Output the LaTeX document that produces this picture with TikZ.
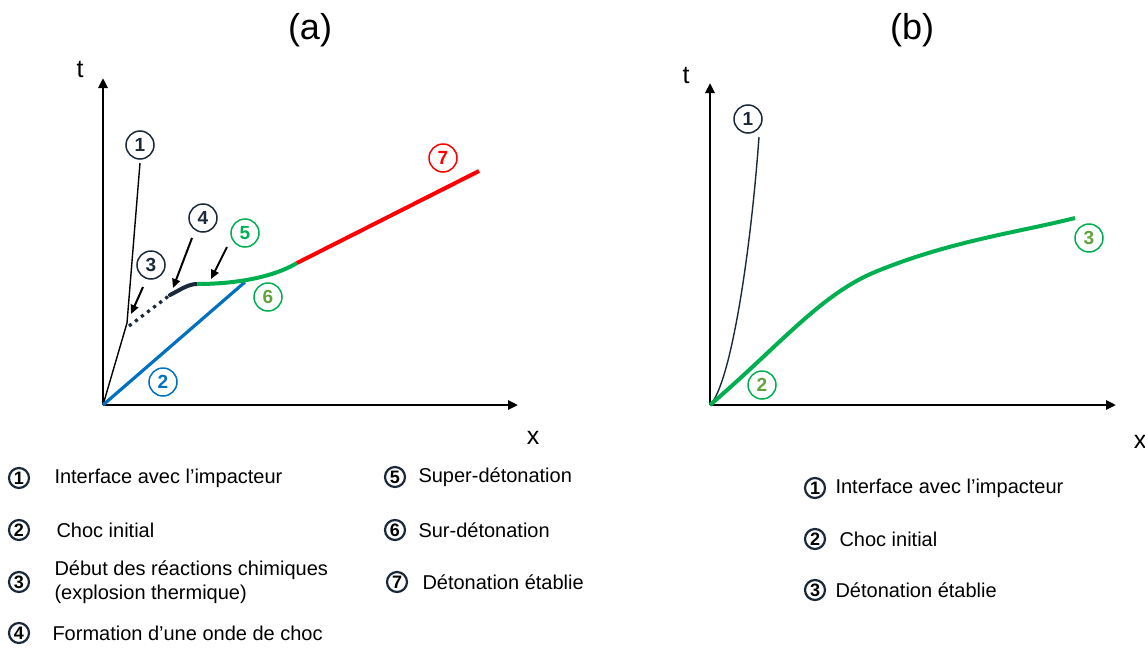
\documentclass[tikz,border=0pt]{standalone}
\usepackage{fontspec}
\setmainfont{Liberation Sans}
\usetikzlibrary{positioning, arrows.meta, calc}

\definecolor{navy}{HTML}{1B2A3A}
\definecolor{cblue}{HTML}{0070C0}
\definecolor{cgreen}{HTML}{00B050}
\definecolor{colive}{HTML}{5FA33E}
\definecolor{cred}{HTML}{FF0000}

\begin{document}
\begin{tikzpicture}[x=0.5pt, y=-0.5pt,
    axis/.style={line width=1.3pt, -{Triangle[length=5pt, width=4.5pt]}},
    tag/.style={circle, draw=#1, line width=0.75pt, inner sep=0pt, minimum size=14pt, text=#1, font=\bfseries\fontsize{9.5}{11}\selectfont},
    legnum/.style={circle, draw=navy, line width=1.1pt, inner sep=0pt, minimum size=10pt, font=\bfseries\fontsize{9}{10}\selectfont},
    legtxt/.style={inner sep=0pt, anchor=west, align=left},
    pointer/.style={line width=1pt, -{Triangle[length=4.5pt, width=4pt]}},
    axlabel/.style={font=\fontsize{12.5}{14}\selectfont}]
  \useasboundingbox (0,0) rectangle (1145,648);

  % Panel titles
  \node (ta) at (310, 30) {\fontsize{18}{20}\selectfont (a)};
  \node (tb) at (912, 30) {\fontsize{18}{20}\selectfont (b)};

  % ---------- Panel (a) ----------
  \coordinate (Oa) at (103, 405);
  \coordinate (Ta) at (103, 78);
  \coordinate (Xa) at (518, 405);
  \draw[axis] (Oa) -- (Ta);
  \draw[axis] (Oa) -- (Xa);
  \node[axlabel] (ta-lbl) at (80, 70) {t};
  \node[axlabel] (xa-lbl) at (533, 438) {x};

  % Points along the waves
  \coordinate (kink) at (127, 323);
  \coordinate (top1) at (140, 163);
  \coordinate (c3s) at (129, 326);
  \coordinate (c4s) at (170, 295);
  \coordinate (c5s) at (197, 284);
  \coordinate (meet) at (245, 282);
  \coordinate (c7s) at (297, 263);
  \coordinate (c7e) at (479, 171);

  % Interface with the impactor
  \draw[line width=0.7pt] (Oa) -- (kink) -- (top1);
  % Initial shock
  \draw[cblue, line width=1.6pt] (Oa) -- (meet);
  % Chemical reactions (dotted)
  \draw[navy, line width=1.6pt, dash pattern=on 1.6pt off 2.2pt] (c3s) -- (c4s);
  % Shock formation
  \draw[navy, line width=2pt, line cap=round] (c4s) .. controls (180, 290) and (188, 284) .. (c5s);
  % Super-detonation / over-detonation
  \draw[cgreen, line width=2pt] (c5s) .. controls (230, 284) and (270, 279) .. (c7s);
  % Established detonation
  \draw[cred, line width=2pt] (c7s) -- (c7e);

  % Tags
  \node[tag=navy] (a1) at (140, 145) {1};
  \node[tag=cblue] (a2) at (163, 382) {2};
  \node[tag=navy] (a3) at (151, 265) {3};
  \node[tag=navy] (a4) at (203, 218) {4};
  \node[tag=cgreen] (a5) at (245, 233) {5};
  \node[tag=cgreen, text=colive] (a6) at (268, 297) {6};
  \node[tag=cred] (a7) at (443, 158) {7};

  % Pointers
  \coordinate (p3) at (131, 314);
  \coordinate (p4) at (173, 288);
  \coordinate (p5) at (211, 279);
  \draw[pointer] (143, 287) -- (p3);
  \draw[pointer] (192, 238) -- (p4);
  \draw[pointer] (227, 247) -- (p5);

  % Legend (a)
  \node[legnum] (la1) at (19, 478) {1};
  \node[legtxt, right=12pt of la1] (lta1) {Interface avec l’impacteur};
  \node[legnum] (la2) at (19, 530) {2};
  \node[legtxt, right=13pt of la2] (lta2) {Choc initial};
  \node[legnum] (la3) at (19, 582) {3};
  \node[legtxt, right=12pt of la3] (lta3) {Début des réactions chimiques\\(explosion thermique)};
  \node[legnum] (la4) at (19, 633) {4};
  \node[legtxt, right=11pt of la4] (lta4) {Formation d’une onde de choc};
  \node[legnum] (la5) at (395, 477) {5};
  \node[legtxt, right=6pt of la5] (lta5) {Super-détonation};
  \node[legnum] (la6) at (395, 530) {6};
  \node[legtxt, right=6pt of la6] (lta6) {Sur-détonation};
  \node[legnum] (la7) at (397, 582) {7};
  \node[legtxt, right=7pt of la7] (lta7) {Détonation établie};

  % ---------- Panel (b) ----------
  \coordinate (Ob) at (710, 405);
  \coordinate (Tb) at (710, 83);
  \coordinate (Xb) at (1116, 405);
  \draw[axis] (Ob) -- (Tb);
  \draw[axis] (Ob) -- (Xb);
  \node[axlabel] (tb-lbl) at (686, 76) {t};
  \node[axlabel] (xb-lbl) at (1140, 442) {x};

  \coordinate (top1b) at (759, 137);
  \coordinate (bend) at (875, 272);
  \coordinate (end3) at (1075, 218);
  % Interface
  \draw[navy, line width=0.7pt] (Ob) .. controls (730, 385) and (750, 260) .. (top1b);
  % Shock then detonation
  \draw[cgreen, line width=2pt] (Ob) .. controls (780, 345) and (820, 295) .. (bend)
    .. controls (950, 241) and (1020, 232) .. (end3);

  \node[tag=navy] (b1) at (748, 119) {1};
  \node[tag=cgreen, text=colive] (b2) at (762, 385) {2};
  \node[tag=cgreen, text=colive] (b3) at (1089, 238) {3};

  % Legend (b)
  \node[legnum] (lb1) at (815, 488) {1};
  \node[legtxt, right=4.5pt of lb1] (ltb1) {Interface avec l’impacteur};
  \node[legnum] (lb2) at (815, 539) {2};
  \node[legtxt, right=6.5pt of lb2] (ltb2) {Choc initial};
  \node[legnum] (lb3) at (815, 590) {3};
  \node[legtxt, right=4.5pt of lb3] (ltb3) {Détonation établie};
\end{tikzpicture}
\end{document}
